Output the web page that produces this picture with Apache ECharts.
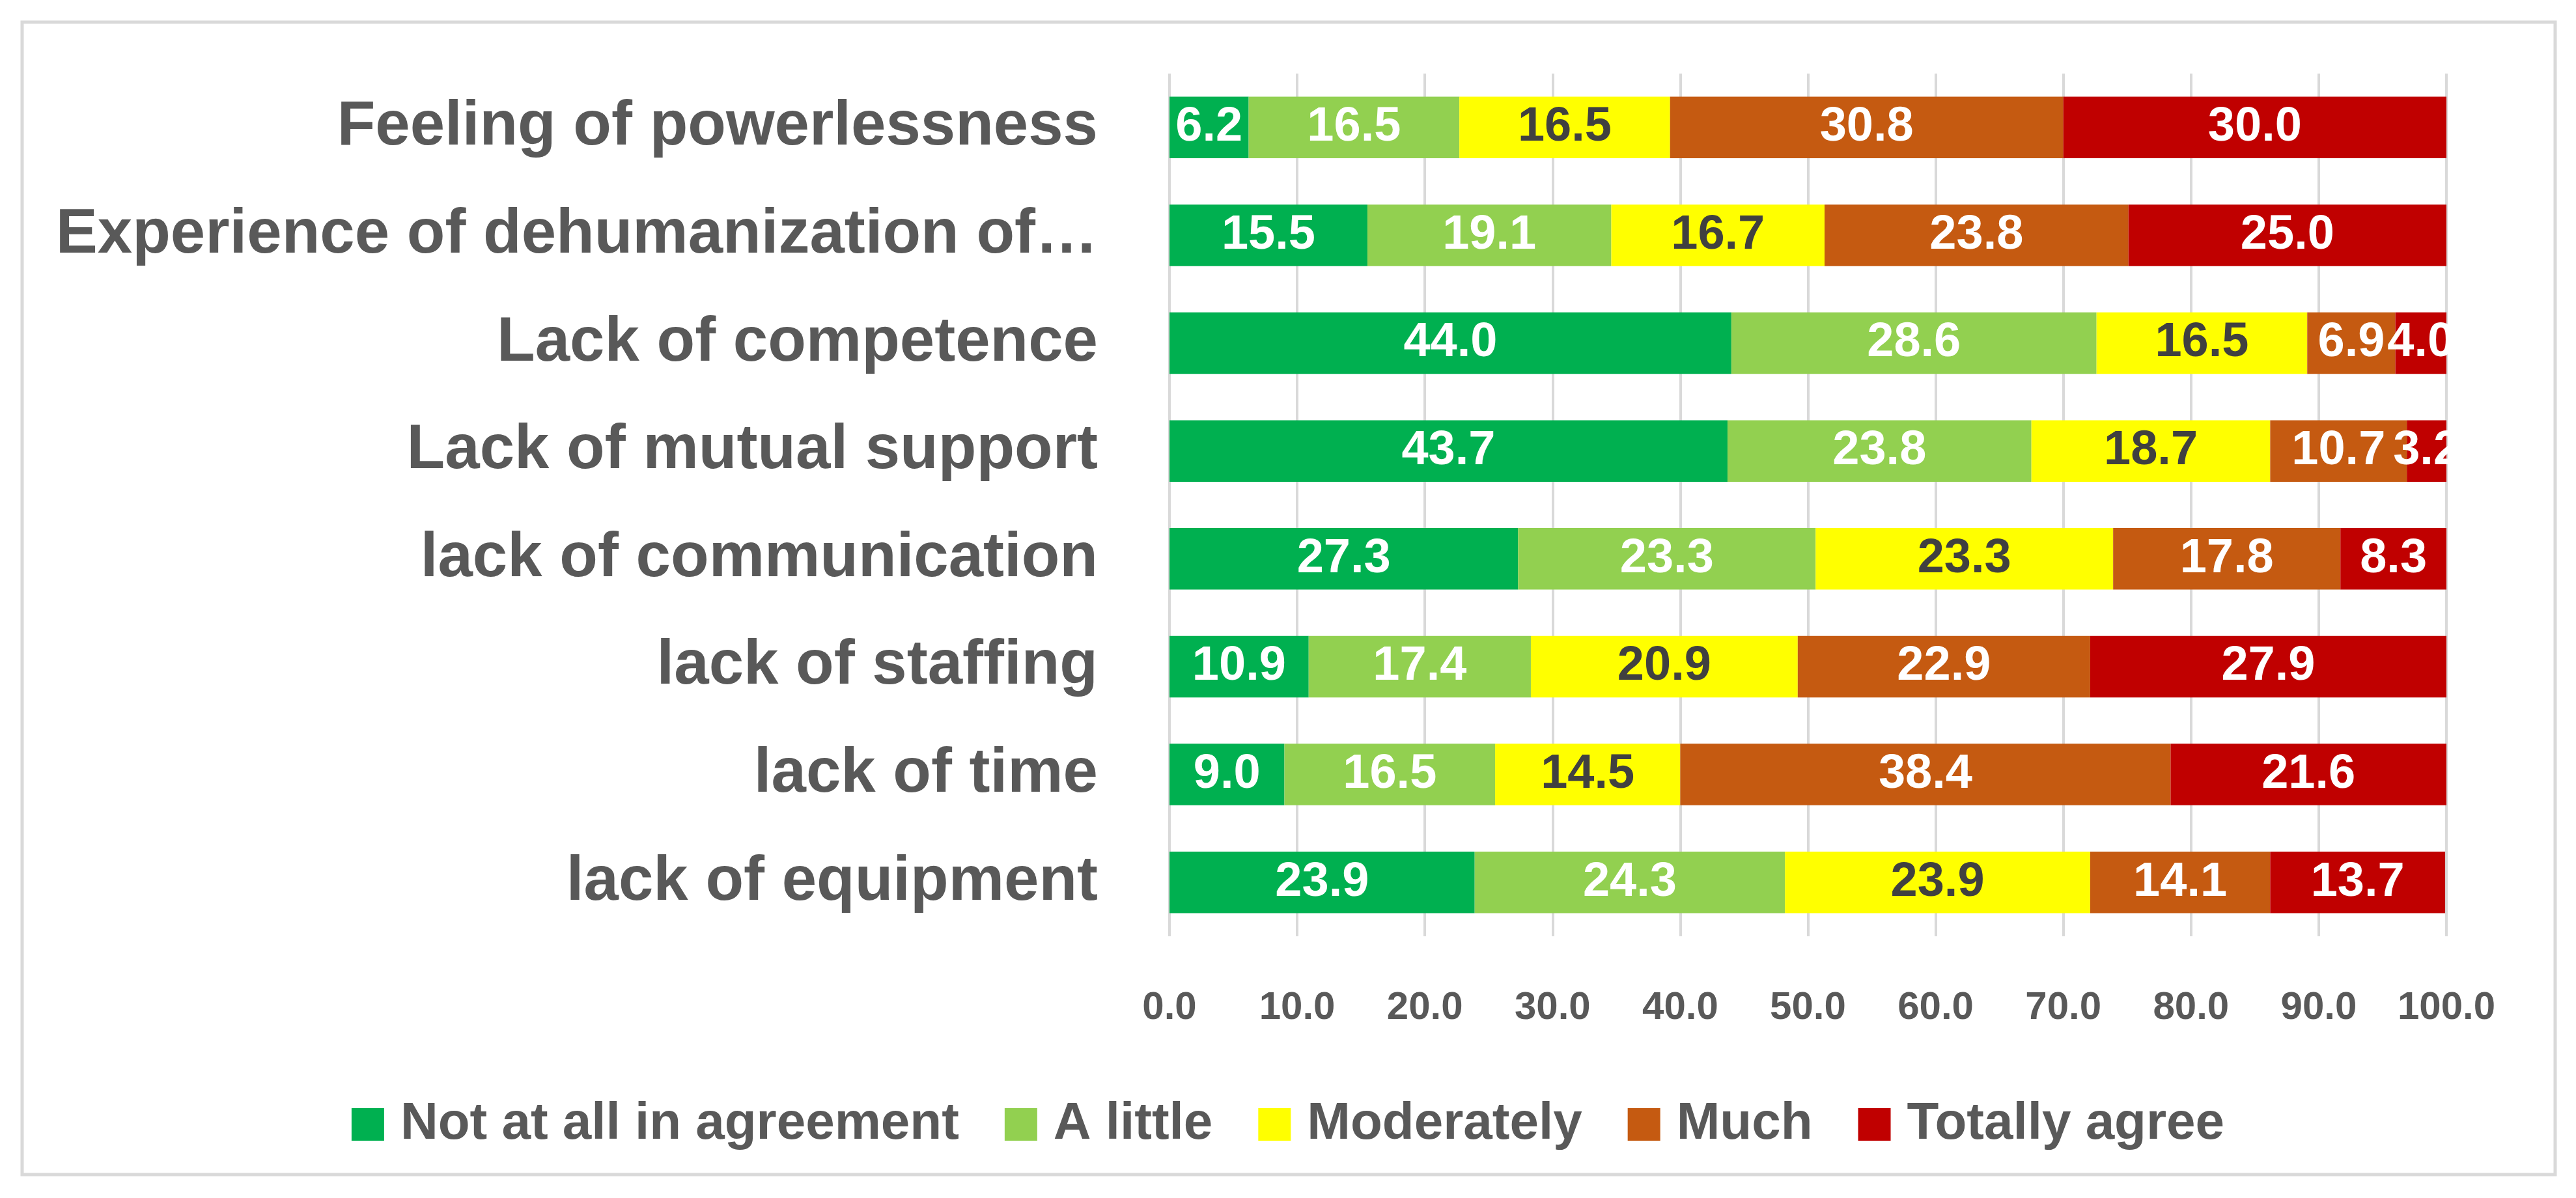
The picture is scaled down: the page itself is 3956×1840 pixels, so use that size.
<!DOCTYPE html>
<html>
<head>
<meta charset="utf-8">
<script src="https://cdn.jsdelivr.net/npm/echarts@6/dist/echarts.min.js"></script>
<style>html,body{margin:0;padding:0;background:#fff}#chart{width:3956px;height:1840px}</style>
</head>
<body>
<div id="chart"></div>
<script>
// categories bottom -> top
var categories = ['lack of equipment', 'lack of time', 'lack of staffing', 'lack of communication',
  'Lack of mutual support', 'Lack of competence', 'Experience of dehumanization of…', 'Feeling of powerlessness'];
var seriesNames = ['Not at all in agreement', 'A little', 'Moderately', 'Much', 'Totally agree'];
var notAtAll = [23.9, 9.0, 10.9, 27.3, 43.7, 44.0, 15.5, 6.2];
var aLittle = [24.3, 16.5, 17.4, 23.3, 23.8, 28.6, 19.1, 16.5];
var moderately = [23.9, 14.5, 20.9, 23.3, 18.7, 16.5, 16.7, 16.5];
var much = [14.1, 38.4, 22.9, 17.8, 10.7, 6.9, 23.8, 30.8];
var totally = [13.7, 21.6, 27.9, 8.3, 3.2, 4.0, 25.0, 30.0];
var colors = ['#00B050', '#92D050', '#FFFF00', '#C55A11', '#C00000'];
var labelColors = ['#fff', '#fff', '#404040', '#fff', '#fff'];
var font = '"Liberation Sans Narrow", "Liberation Sans", sans-serif';

var chart = echarts.init(document.getElementById('chart'));
var allData = [notAtAll, aLittle, moderately, much, totally];
var series = [];
for (var i = 0; i < 5; i++) {
  series.push({
    name: seriesNames[i],
    type: 'bar',
    stack: 'total',
    data: allData[i],
    barCategoryGap: '43%',
    itemStyle: {color: colors[i]},
    label: {
      show: true,
      position: 'inside',
      color: labelColors[i],
      fontFamily: font,
      fontWeight: 'bold',
      fontSize: 74,
      formatter: function (p) { return p.value.toFixed(1); }
    }
  });
}
chart.setOption({
  animation: false,
  color: colors,
  graphic: [{
    type: 'rect',
    shape: {x: 34, y: 34, width: 3890, height: 1770},
    style: {fill: 'none', stroke: '#d9d9d9', lineWidth: 5}
  }],
  grid: {left: 1796, right: 199, top: 113, bottom: 402},
  legend: {
    bottom: 68,
    left: 'center',
    itemWidth: 50,
    itemHeight: 50,
    itemGap: 70,
    icon: 'rect',
    textStyle: {fontFamily: font, fontWeight: 'bold', fontSize: 80, color: '#595959', padding: [0, 0, 0, 20]}
  },
  xAxis: {
    type: 'value',
    min: 0,
    max: 100,
    interval: 10,
    axisLine: {show: false},
    axisTick: {show: false},
    splitLine: {lineStyle: {color: '#d9d9d9', width: 4}},
    axisLabel: {
      margin: 80,
      fontFamily: font, fontWeight: 'bold', fontSize: 60, color: '#595959',
      formatter: function (v) { return v.toFixed(1); }
    }
  },
  yAxis: {
    type: 'category',
    data: categories,
    axisLine: {show: false},
    axisTick: {show: false},
    axisLabel: {margin: 110, fontFamily: font, fontWeight: 'bold', fontSize: 96, color: '#595959'}
  },
  series: series
});
</script>
</body>
</html>
